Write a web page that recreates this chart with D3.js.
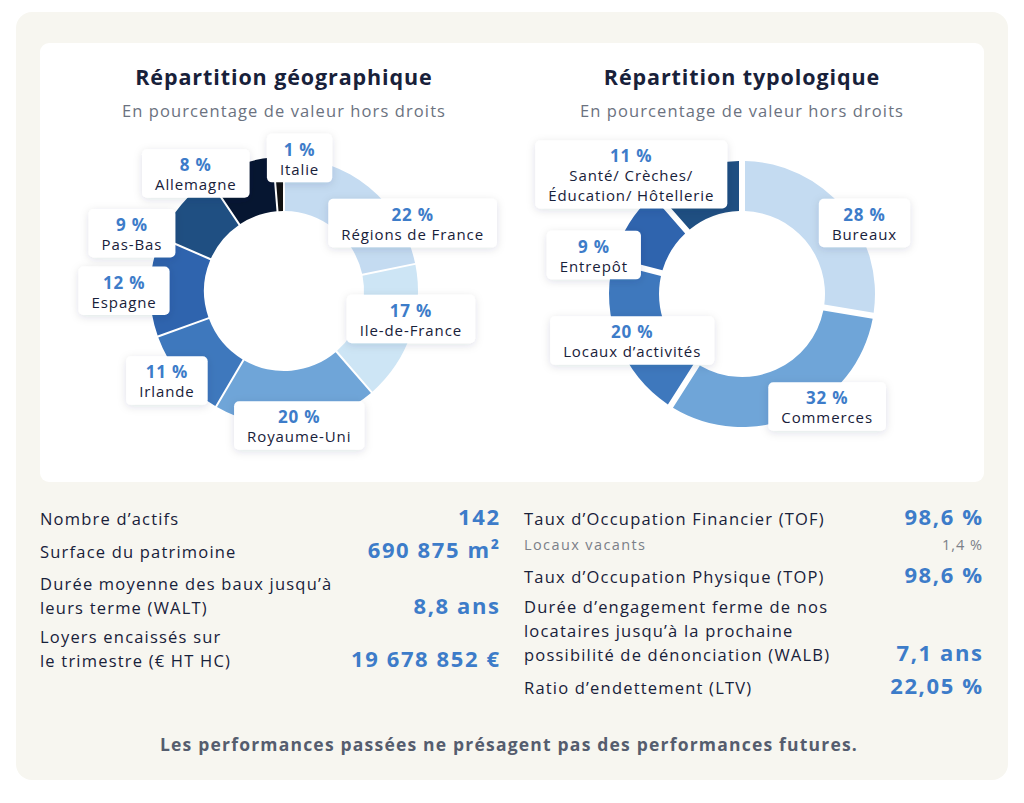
<!DOCTYPE html>
<html>
<head>
<meta charset="utf-8">
<script src="https://cdn.jsdelivr.net/npm/d3@7"></script>
<style>
  body { margin: 0; background: #fff; }
  svg { display: block; font-family: "Open Sans", Lato, sans-serif; }
</style>
</head>
<body>
<div id="chart"></div>
<script>
// data
const geoLabels = ["Régions de France", "Ile-de-France", "Royaume-Uni", "Irlande", "Espagne", "Pas-Bas", "Allemagne", "Italie"];
const geoValues = [22, 17, 20, 11, 12, 9, 8, 1];
const typoLabels = [["Bureaux"], ["Commerces"], ["Locaux d’activités"], ["Entrepôt"], ["Santé/ Crèches/", "Éducation/ Hôtellerie"]];
const typoValues = [28, 32, 20, 9, 11];

const leftStatLabels = [["Nombre d’actifs"], ["Surface du patrimoine"], ["Durée moyenne des baux jusqu’à", "leurs terme (WALT)"], ["Loyers encaissés sur", "le trimestre (€ HT HC)"]];
const leftStatValues = ["142", "690 875 m²", "8,8 ans", "19 678 852 €"];
const rightStatLabels = [["Taux d’Occupation Financier (TOF)"], ["Taux d’Occupation Physique (TOP)"], ["Durée d’engagement ferme de nos", "locataires jusqu’à la prochaine", "possibilité de dénonciation (WALB)"], ["Ratio d’endettement (LTV)"]];
const rightStatValues = ["98,6 %", "98,6 %", "7,1 ans", "22,05 %"];
const vacantLabel = "Locaux vacants", vacantValue = "1,4 %";

// colours
const geoColors = ["#c4dbf1", "#cde5f5", "#6fa5d8", "#3e78bd", "#2f64ae", "#1f4f82", "#061631", "#111111"];
const typoColors = ["#c4dbf1", "#6fa5d8", "#3e78bd", "#2f64ae", "#1f4f82"];
const blue = "#3d7cc9", ink = "#18213a";

// label box offsets from the outer edge point of each slice
const geoOffsets = [[44, 36], [0, -15], [3, 1], [-14, 4], [-26, 4], [-49, 28], [-44, 9], [21, 1]];
const typoOffsets = [[21, 15], [31, -9], [14, -2], [-35, 31], [-64, 5]];

const width = 1024, height = 803;
const svg = d3.select("#chart").append("svg")
    .attr("width", width)
    .attr("height", height);

const defs = svg.append("defs");
const shadow = defs.append("filter").attr("id", "shadow")
    .attr("x", "-30%").attr("y", "-40%").attr("width", "160%").attr("height", "180%");
shadow.append("feDropShadow")
    .attr("dx", 0).attr("dy", 2)
    .attr("stdDeviation", 4)
    .attr("flood-color", "#1a2a40")
    .attr("flood-opacity", 0.13);

// backgrounds
svg.append("rect").attr("x", 16).attr("y", 12).attr("width", 992).attr("height", 768)
    .attr("rx", 16).attr("fill", "#f7f6f0");
svg.append("rect").attr("x", 40).attr("y", 43).attr("width", 944).attr("height", 439)
    .attr("rx", 9).attr("fill", "#fff");

function donut(cx, cy, outer, inner, gap, values, colors, labels, offsets, title) {
    const g = svg.append("g");

    g.append("text")
        .attr("x", cx).attr("y", 85)
        .attr("text-anchor", "middle")
        .attr("font-size", 21.5).attr("font-weight", 700)
        .attr("letter-spacing", 0.9)
        .attr("fill", ink)
        .text(title);
    g.append("text")
        .attr("x", cx).attr("y", 117)
        .attr("text-anchor", "middle")
        .attr("font-size", 16.5)
        .attr("letter-spacing", 1.1)
        .attr("fill", "#6b7280")
        .text("En pourcentage de valeur hors droits");

    const pie = d3.pie().sort(null).value(d => d).padAngle(gap / 100);
    const arcs = pie(values);
    const arc = d3.arc().innerRadius(inner).outerRadius(outer).padRadius(100);
    const edge = d3.arc().innerRadius(outer).outerRadius(outer);

    const ring = g.append("g").attr("transform", `translate(${cx},${cy})`);
    ring.selectAll("path")
        .data(arcs)
        .join("path")
        .attr("d", arc)
        .attr("fill", (_, i) => colors[i]);

    // labels
    arcs.forEach((a, i) => {
        const [px, py] = edge.centroid(a);
        const lx = cx + px + offsets[i][0];
        const ly = cy + py + offsets[i][1];
        const lines = Array.isArray(labels[i]) ? labels[i] : [labels[i]];
        const lg = g.append("g");
        const box = lg.append("rect").attr("fill", "#fff").attr("rx", 5)
            .attr("filter", "url(#shadow)");
        const h = 29 + lines.length * 19.5;
        const top = ly - h / 2;
        const pct = lg.append("text")
            .attr("x", lx).attr("y", top + 22)
            .attr("text-anchor", "middle")
            .attr("font-size", 17).attr("font-weight", 700)
            .attr("letter-spacing", 0.8)
            .attr("fill", blue)
            .text(values[i] + " %");
        let w = pct.node().getComputedTextLength();
        lines.forEach((t, j) => {
            const tx = lg.append("text")
                .attr("x", lx).attr("y", top + 41 + j * 20)
                .attr("text-anchor", "middle")
                .attr("font-size", 15)
                .attr("letter-spacing", 0.9)
                .attr("fill", ink)
                .text(t);
            w = Math.max(w, tx.node().getComputedTextLength());
        });
        box.attr("x", lx - w / 2 - 13).attr("y", top)
            .attr("width", w + 26).attr("height", h);
    });
}

donut(284, 291, 134, 80, 2, geoValues, geoColors, geoLabels, geoOffsets, "Répartition géographique");
donut(742, 294, 133, 83, 6, typoValues, typoColors, typoLabels, typoOffsets, "Répartition typologique");

// key figures
function stats(x0, x1, labels, values, baselines) {
    labels.forEach((lines, i) => {
        const y = baselines[i];
        lines.forEach((t, j) => {
            svg.append("text")
                .attr("x", x0).attr("y", y + j * 24)
                .attr("font-size", 16.5)
                .attr("letter-spacing", 1.2)
                .attr("fill", ink)
                .text(t);
        });
        // letter-spacing leaves a trailing gap, so push end anchor by it
        svg.append("text")
            .attr("x", x1 + 1.6).attr("y", y + (lines.length - 1) * 24)
            .attr("text-anchor", "end")
            .attr("font-size", 22).attr("font-weight", 700)
            .attr("letter-spacing", 1.6)
            .attr("fill", blue)
            .text(values[i]);
    });
}

stats(40, 499, leftStatLabels, leftStatValues, [525, 558, 590, 643]);
stats(524, 982, rightStatLabels, rightStatValues, [525, 583, 613, 694]);

svg.append("text").attr("x", 524).attr("y", 550)
    .attr("font-size", 14.5).attr("letter-spacing", 1.4).attr("fill", "#7b8088")
    .text(vacantLabel);
svg.append("text").attr("x", 983).attr("y", 550)
    .attr("text-anchor", "end")
    .attr("font-size", 14.5).attr("letter-spacing", 1).attr("fill", "#7b8088")
    .text(vacantValue);

svg.append("text")
    .attr("x", 509).attr("y", 751)
    .attr("text-anchor", "middle")
    .attr("font-size", 17.5).attr("font-weight", 700)
    .attr("letter-spacing", 1.2)
    .attr("fill", "#555d6e")
    .text("Les performances passées ne présagent pas des performances futures.");
</script>
</body>
</html>
